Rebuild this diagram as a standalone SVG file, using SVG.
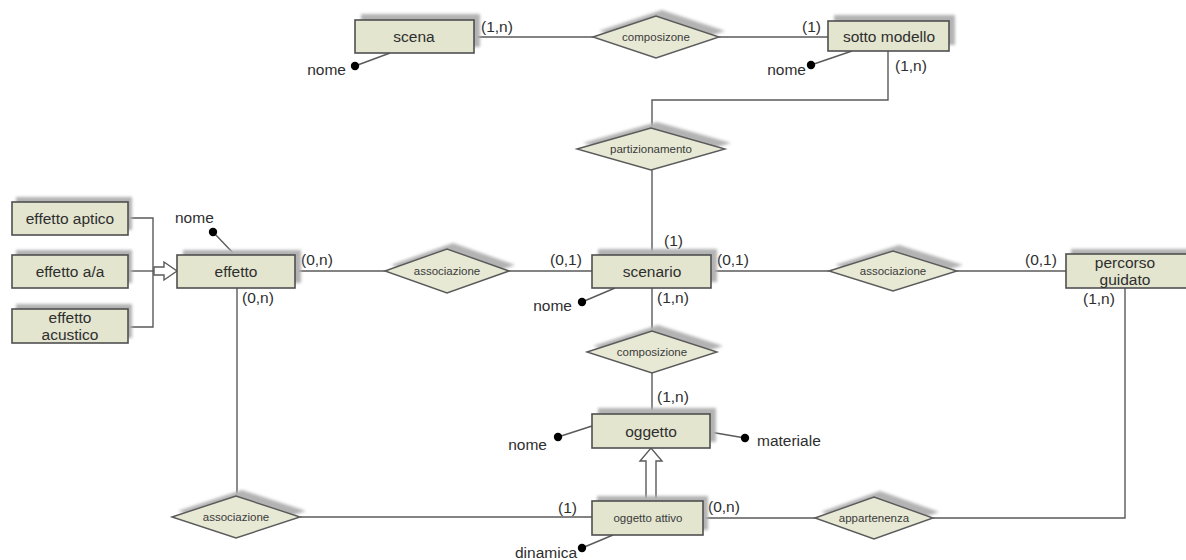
<svg xmlns="http://www.w3.org/2000/svg" width="1186" height="560" viewBox="0 0 1186 560">
  <style>
    .ent { fill: #e3e5cf; stroke: #4f4f4f; stroke-width: 1.6; }
    .rel { fill: #e7e9d5; stroke: #5a5a5a; stroke-width: 1.4; }
    .shd { fill: #b3b3b3; filter: url(#soft); }
    .wire { fill: none; stroke: #5a5a5a; stroke-width: 1.4; }
    .isa { fill: #ffffff; stroke: #5a5a5a; stroke-width: 1.4; }
    .dot { fill: #000000; }
    .t { font-family: "Liberation Sans", Arial, sans-serif; font-size: 15.5px; fill: #2e2e2e; }
    .c { text-anchor: middle; }
    .r { text-anchor: end; }
    .rt { font-family: "Liberation Sans", Arial, sans-serif; font-size: 11.5px; fill: #3a3a3a; text-anchor: middle; }
  </style>
  <defs>
    <filter id="soft" x="-10%" y="-30%" width="120%" height="160%">
      <feGaussianBlur stdDeviation="1.4"/>
    </filter>
  </defs>
  <rect width="1186" height="560" fill="#ffffff"/>

  <!-- connectors -->
  <g id="connectors">
    <line class="wire" x1="474" y1="37" x2="593" y2="37"/>
    <line class="wire" x1="719" y1="37" x2="828" y2="37"/>
    <polyline class="wire" points="888,51 888,100 652,100 652,128"/>
    <line class="wire" x1="652" y1="170" x2="652" y2="255"/>
    <line class="wire" x1="295" y1="271" x2="385" y2="271"/>
    <line class="wire" x1="509" y1="271" x2="592" y2="271"/>
    <line class="wire" x1="711" y1="271" x2="829" y2="271"/>
    <line class="wire" x1="957" y1="271" x2="1066" y2="271"/>
    <polyline class="wire" points="1125,288 1125,518 933,518"/>
    <line class="wire" x1="703" y1="518" x2="815" y2="518"/>
    <line class="wire" x1="300" y1="517" x2="592" y2="517"/>
    <line class="wire" x1="237" y1="288" x2="237" y2="496"/>
    <line class="wire" x1="652" y1="288" x2="652" y2="331"/>
    <line class="wire" x1="652" y1="373" x2="652" y2="414"/>
    <!-- generalisation of effetto -->
    <polyline class="wire" points="128,218 153,218 153,327 128,327"/>
    <line class="wire" x1="128" y1="271" x2="154" y2="271"/>
    <polygon class="isa" points="154,267 164,267 164,262 177,271 164,280 164,275 154,275"/>
    <!-- generalisation of oggetto -->
    <polygon class="isa" points="646,501 646,461 640,461 651,448 662,461 656,461 656,501"/>
    <!-- attribute stems -->
    <line class="wire" x1="355" y1="66" x2="390" y2="53"/>
    <line class="wire" x1="811" y1="65" x2="852" y2="51"/>
    <line class="wire" x1="213" y1="232" x2="235" y2="255"/>
    <line class="wire" x1="582" y1="302" x2="615" y2="288"/>
    <line class="wire" x1="558" y1="437" x2="592" y2="426"/>
    <line class="wire" x1="710" y1="432" x2="745" y2="438"/>
    <line class="wire" x1="582" y1="548" x2="613" y2="535"/>
  </g>

  <!-- cardinalities -->
  <g id="cardinalities" class="t">
    <text x="481" y="32">(1,n)</text>
    <text x="802" y="32">(1)</text>
    <text x="895" y="71">(1,n)</text>
    <text x="664" y="246">(1)</text>
    <text x="301" y="265">(0,n)</text>
    <text x="550" y="265">(0,1)</text>
    <text x="717" y="265">(0,1)</text>
    <text x="1025" y="265">(0,1)</text>
    <text x="657" y="303">(1,n)</text>
    <text x="1083" y="304">(1,n)</text>
    <text x="242" y="303">(0,n)</text>
    <text x="657" y="402">(1,n)</text>
    <text x="558" y="513">(1)</text>
    <text x="708" y="512">(0,n)</text>
  </g>

  <!-- attributes -->
  <g id="attributes">
    <circle class="dot" cx="355" cy="66" r="4.2"/>
    <text class="t r" x="346" y="75">nome</text>
    <circle class="dot" cx="811" cy="65" r="4.2"/>
    <text class="t r" x="806" y="75">nome</text>
    <circle class="dot" cx="213" cy="232" r="4.2"/>
    <text class="t" x="175" y="223">nome</text>
    <circle class="dot" cx="582" cy="302" r="4.2"/>
    <text class="t r" x="572" y="311">nome</text>
    <circle class="dot" cx="558" cy="437" r="4.2"/>
    <text class="t r" x="547" y="450">nome</text>
    <circle class="dot" cx="745" cy="438" r="4.2"/>
    <text class="t" x="757" y="446">materiale</text>
    <circle class="dot" cx="582" cy="548" r="4.2"/>
    <text class="t r" x="577" y="558">dinamica</text>
  </g>

  <!-- entities -->
  <g id="scena">
    <rect class="shd" x="361" y="14" width="119" height="33"/>
    <rect class="ent" x="355" y="20" width="119" height="33"/>
    <text class="t c" x="414" y="42">scena</text>
  </g>
  <g id="sotto-modello">
    <rect class="shd" x="834" y="15" width="121" height="30"/>
    <rect class="ent" x="828" y="21" width="121" height="30"/>
    <text class="t c" x="889" y="42">sotto modello</text>
  </g>
  <g id="scenario">
    <rect class="shd" x="598" y="249" width="119" height="33"/>
    <rect class="ent" x="592" y="255" width="119" height="33"/>
    <text class="t c" x="652" y="277">scenario</text>
  </g>
  <g id="percorso-guidato">
    <rect class="shd" x="1071" y="249" width="120" height="34"/>
    <rect class="ent" x="1066" y="254" width="122" height="34"/>
    <text class="t c" x="1125" y="268">percorso</text>
    <text class="t c" x="1125" y="285">guidato</text>
  </g>
  <g id="effetto">
    <rect class="shd" x="183" y="250" width="118" height="33"/>
    <rect class="ent" x="177" y="255" width="118" height="33"/>
    <text class="t c" x="236" y="277">effetto</text>
  </g>
  <g id="effetto-aptico">
    <rect class="shd" x="16" y="197" width="116" height="33"/>
    <rect class="ent" x="12" y="202" width="116" height="33"/>
    <text class="t c" x="70" y="224">effetto aptico</text>
  </g>
  <g id="effetto-aa">
    <rect class="shd" x="16" y="250" width="116" height="33"/>
    <rect class="ent" x="12" y="255" width="116" height="33"/>
    <text class="t c" x="70" y="277">effetto a/a</text>
  </g>
  <g id="effetto-acustico">
    <rect class="shd" x="16" y="304" width="116" height="34"/>
    <rect class="ent" x="12" y="309" width="116" height="34"/>
    <text class="t c" x="70" y="323">effetto</text>
    <text class="t c" x="70" y="340">acustico</text>
  </g>
  <g id="oggetto">
    <rect class="shd" x="598" y="408" width="118" height="34"/>
    <rect class="ent" x="592" y="414" width="118" height="34"/>
    <text class="t c" x="651" y="437">oggetto</text>
  </g>
  <g id="oggetto-attivo">
    <rect class="shd" x="597" y="496" width="111" height="34"/>
    <rect class="ent" x="592" y="501" width="111" height="34"/>
    <text class="rt" x="648" y="522">oggetto attivo</text>
  </g>

  <!-- relationships -->
  <g id="composizone">
    <polygon class="shd" points="599,31 662,10 725,31 662,52"/>
    <polygon class="rel" points="593,37 656,16 719,37 656,58"/>
    <text class="rt" x="656" y="41">composizone</text>
  </g>
  <g id="partizionamento">
    <polygon class="shd" points="583,143 657,122 731,143 657,164"/>
    <polygon class="rel" points="577,149 651,128 725,149 651,170"/>
    <text class="rt" x="651" y="153">partizionamento</text>
  </g>
  <g id="associazione-effetto">
    <polygon class="shd" points="391,265 453,243 515,265 453,287"/>
    <polygon class="rel" points="385,271 447,249 509,271 447,293"/>
    <text class="rt" x="447" y="275">associazione</text>
  </g>
  <g id="associazione-percorso">
    <polygon class="shd" points="835,265 899,245 963,265 899,285"/>
    <polygon class="rel" points="829,271 893,251 957,271 893,291"/>
    <text class="rt" x="893" y="275">associazione</text>
  </g>
  <g id="composizione">
    <polygon class="shd" points="593,346 658,325 723,346 658,367"/>
    <polygon class="rel" points="587,352 652,331 717,352 652,373"/>
    <text class="rt" x="652" y="356">composizione</text>
  </g>
  <g id="associazione-oggetto">
    <polygon class="shd" points="178,511 242,490 306,511 242,532"/>
    <polygon class="rel" points="172,517 236,496 300,517 236,538"/>
    <text class="rt" x="236" y="521">associazione</text>
  </g>
  <g id="appartenenza">
    <polygon class="shd" points="821,512 880,491 939,512 880,533"/>
    <polygon class="rel" points="815,518 874,497 933,518 874,539"/>
    <text class="rt" x="874" y="522">appartenenza</text>
  </g>
</svg>
